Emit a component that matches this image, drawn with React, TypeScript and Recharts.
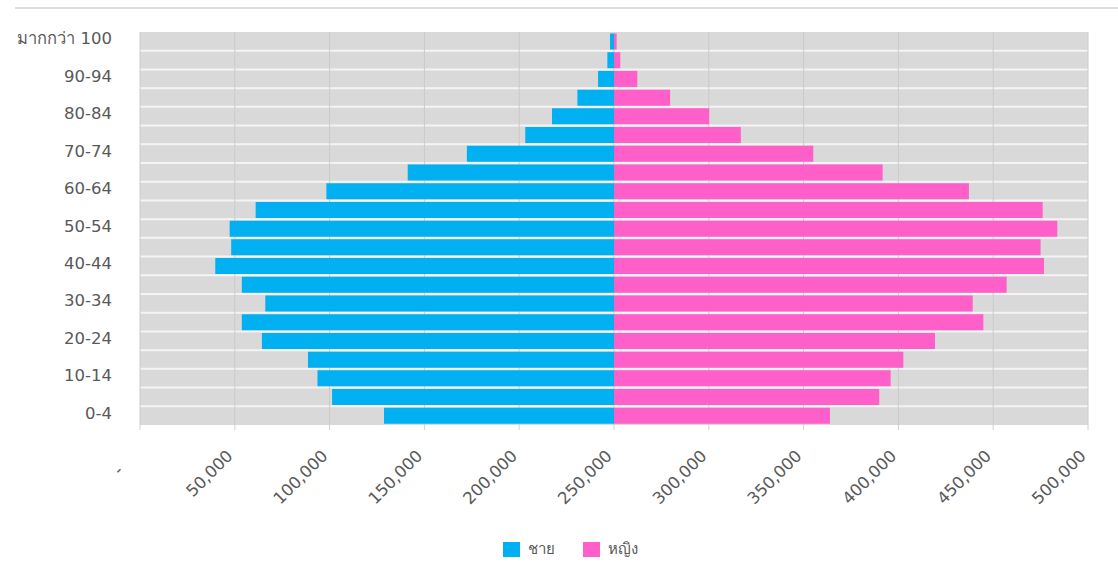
import React from 'react';
import { BarChart, Bar, XAxis, YAxis, CartesianGrid, Legend } from 'recharts';

const ageGroups = ['0-4', '5-9', '10-14', '15-19', '20-24', '25-29', '30-34', '35-39', '40-44', '45-49', '50-54', '55-59', '60-64', '65-69', '70-74', '75-79', '80-84', '85-89', '90-94', '95-99', 'มากกว่า 100'];
const maleValues = [121300, 148700, 156400, 161400, 185700, 196300, 183900, 196300, 210300, 201900, 202700, 189000, 151700, 108800, 77600, 46800, 32700, 19300, 8400, 3500, 2100];
const femaleValues = [113900, 139900, 145900, 152600, 169300, 194800, 189200, 207100, 226800, 225000, 233800, 226100, 187200, 141700, 105100, 66900, 50200, 29600, 12300, 3300, 1400];
const xTicks = [0, 50000, 100000, 150000, 200000, 250000, 300000, 350000, 400000, 450000, 500000];
const centerValue = 250000;
const maleName = 'ชาย';
const femaleName = 'หญิง';

const MALE_COLOR = '#00b0f0';
const FEMALE_COLOR = '#ff5fc8';
const TEXT_COLOR = '#595959';
const FONT = "'DejaVu Sans', 'Noto Sans', sans-serif";

const data = ageGroups.map((age, i) => ({
  age,
  base: centerValue - maleValues[i],
  male: maleValues[i],
  female: femaleValues[i],
}));

const fmt = (v: number) => (v === 0 ? '-\u00a0\u00a0\u00a0\u00a0' : v.toLocaleString('en-US'));

const XTick = (props: any) => {
  const { x, y, payload } = props;
  const px = x - 1;
  const py = y + 27;
  return (
    <text
      x={px}
      y={py}
      textAnchor="end"
      transform={`rotate(-45, ${px}, ${py})`}
      fill={TEXT_COLOR}
      fontSize={16.5}
      fontFamily={FONT}
    >
      {fmt(payload.value)}
    </text>
  );
};

const YTick = (props: any) => {
  const { x, y, payload } = props;
  return (
    <text x={x} y={y + 3} textAnchor="end" fill={TEXT_COLOR} fontSize={16.5} fontFamily={FONT}>
      {payload.value}
    </text>
  );
};

const renderLegend = (props: any) => {
  const items = (props.payload || []).filter((p: any) => p.type !== 'none');
  return (
    <div style={{ display: 'flex', justifyContent: 'center', alignItems: 'center', gap: 28, paddingLeft: 23, fontFamily: FONT, fontSize: 15, color: TEXT_COLOR }}>
      {items.map((p: any) => (
        <div key={p.value} style={{ display: 'flex', alignItems: 'center', gap: 8 }}>
          <span style={{ display: 'inline-block', width: 17, height: 15, background: p.color }} />
          <span>{p.value}</span>
        </div>
      ))}
    </div>
  );
};

export default function App() {
  return (
    <div style={{ position: 'absolute', left: 0, top: 0, width: 1118, height: 562, background: '#fff' }}>
      <div style={{ position: 'absolute', left: 15, top: 7, width: 1103, height: 2, background: '#dedede' }} />
      <BarChart
        width={1118}
        height={562}
        data={data}
        layout="vertical"
        margin={{ top: 32, right: 30, left: 0, bottom: 37 }}
        barCategoryGap={1.5}
      >
        <CartesianGrid
          fill="#d9d9d9"
          stroke="#f4f4f4"
          strokeWidth={2}
          vertical={false}
          horizontalCoordinatesGenerator={({ offset }: any) =>
            ageGroups.slice(1).map((_, i) => offset.top + ((i + 1) * offset.height) / ageGroups.length)
          }
        />
        <CartesianGrid stroke="#cbcbcb" horizontal={false} />
        <XAxis
          type="number"
          domain={[0, 500000]}
          ticks={xTicks}
          interval={0}
          height={100}
          axisLine={false}
          tickSize={5}
          tickMargin={0}
          tickLine={{ stroke: '#d0d0d0' }}
          tick={<XTick />}
        />
        <YAxis
          type="category"
          dataKey="age"
          reversed
          width={140}
          interval={1}
          axisLine={false}
          tickLine={false}
          tickSize={0}
          tickMargin={28}
          tick={<YTick />}
        />
        <Bar dataKey="base" stackId="p" fill="transparent" legendType="none" isAnimationActive={false} />
        <Bar dataKey="male" name={maleName} stackId="p" fill={MALE_COLOR} isAnimationActive={false} />
        <Bar dataKey="female" name={femaleName} stackId="p" fill={FEMALE_COLOR} isAnimationActive={false} />
        <Legend
          verticalAlign="middle"
          align="center"
          content={renderLegend}
          wrapperStyle={{ top: 537, left: 0, width: 1118, height: 22 }}
        />
      </BarChart>
    </div>
  );
}
